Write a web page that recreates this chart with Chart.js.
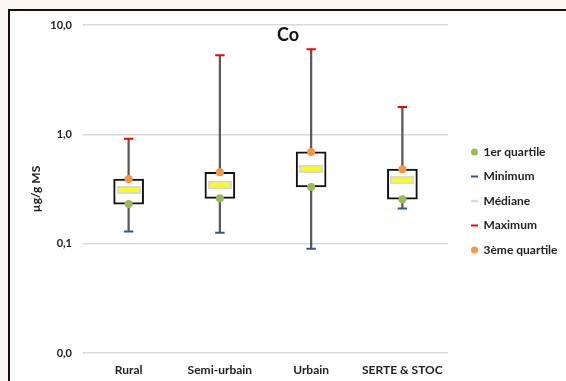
<!DOCTYPE html>
<html lang="fr">
<head>
<meta charset="utf-8">
<title>Co</title>
<script src="https://cdn.jsdelivr.net/npm/chart.js@4.4.1/dist/chart.umd.min.js"></script>
<style>
  html, body { margin: 0; padding: 0; }
  body { width: 566px; height: 381px; background: #fbf8f3; position: relative; overflow: hidden; }
  #frame {
    position: absolute; left: 8px; top: 9px; width: 558px; height: 372px;
    box-sizing: border-box; border-left: 2px solid #111; border-top: 2px solid #111;
    background: #fff;
  }
  #wrap { position: relative; width: 556px; height: 370px; }
</style>
</head>
<body>
<div id="frame"><div id="wrap"><canvas id="chart"></canvas></div></div>
<script>
// ---- DATA ----
const categories = ["Rural", "Semi-urbain", "Urbain", "SERTE & STOC"];
const minVals = [0.129, 0.126, 0.090, 0.210];
const q1Vals  = [0.230, 0.260, 0.330, 0.255];
const medVals = [0.310, 0.347, 0.486, 0.380];
const q3Vals  = [0.390, 0.450, 0.690, 0.480];
const maxVals = [0.910, 5.300, 6.000, 1.780];

const yTicks = [0.01, 0.1, 1, 10];
const yTickLabels = ["0,0", "0,1", "1,0", "10,0"];
const chartTitle = "Co";
const yTitle = "µg/g MS";

// ---- COLOURS ----
const green = "#9bbb59";
const orange = "#f79646";
const blue = "#2c5a8c";
const red = "#ff0000";
const yellow = "#ffff00";
const medGrey = "#d9d9d9";

Chart.defaults.font.family = "Lato, 'Open Sans', sans-serif";
Chart.defaults.font.weight = "bold";
Chart.defaults.font.size = 12;
Chart.defaults.color = "#222";

// median marker: yellow bar with a light grey rim
const medMark = document.createElement("canvas");
medMark.width = 24; medMark.height = 8;
(function () {
  const c = medMark.getContext("2d");
  c.fillStyle = medGrey; c.fillRect(0, 0, 24, 8);
  c.fillStyle = yellow; c.fillRect(2, 2, 20, 4);
})();

const range = (a, b) => a.map((v, i) => [v, b[i]]);

// title drawn inside the plot
const titleInside = {
  id: "titleInside",
  afterDraw(chart) {
    const ctx = chart.ctx;
    ctx.save();
    ctx.font = "bold 18px Lato, 'Open Sans', sans-serif";
    ctx.fillStyle = "#111";
    ctx.textAlign = "center";
    ctx.textBaseline = "middle";
    ctx.fillText(chartTitle, chart.width / 2, 24);
    ctx.restore();
  }
};

// keep a gap between plot and legend
const legendShift = {
  id: "legendShift",
  beforeInit(chart) {
    const fit = chart.legend.fit;
    chart.legend.fit = function () {
      fit.call(this);
      this.width = 118;
    };
  },
  afterLayout(chart) {
    const lg = chart.legend;
    lg.left += 11; lg.right += 11;
    lg.top -= 2; lg.bottom -= 2;
  }
};

const pts = {
  type: "line",
  showLine: false,
  order: 1,
  pointBorderWidth: 0
};

new Chart(document.getElementById("chart"), {
  data: {
    labels: categories,
    datasets: [
      { ...pts, label: "1er quartile", data: q1Vals, pointStyle: "circle", pointRadius: 4,
        backgroundColor: green, pointBackgroundColor: green, borderColor: green },
      { ...pts, label: "Minimum", data: minVals, pointStyle: "line", pointRadius: 4.7,
        pointBorderWidth: 2, borderWidth: 2, borderColor: blue, pointBorderColor: blue, backgroundColor: blue },
      { ...pts, label: "Médiane", data: medVals, pointStyle: medMark,
        borderColor: medGrey, backgroundColor: medGrey },
      { ...pts, label: "Maximum", data: maxVals, pointStyle: "line", pointRadius: 4.7,
        pointBorderWidth: 2, borderWidth: 2, borderColor: red, pointBorderColor: red, backgroundColor: red },
      { ...pts, label: "3ème quartile", data: q3Vals, pointStyle: "circle", pointRadius: 4,
        backgroundColor: orange, pointBackgroundColor: orange, borderColor: orange },
      // box from 1st to 3rd quartile
      { type: "bar", label: "box", data: range(q1Vals, q3Vals), order: 2, grouped: false,
        barThickness: 30, backgroundColor: "#fff", borderColor: "#111", borderWidth: 2, borderSkipped: false },
      // whisker from min to max
      { type: "bar", label: "whisker", data: range(minVals, maxVals), order: 3, grouped: false,
        barThickness: 1.6, backgroundColor: "#5a5a5a", borderWidth: 0 }
    ]
  },
  options: {
    responsive: true,
    maintainAspectRatio: false,
    animation: false,
    layout: { autoPadding: false, padding: { top: 14, left: 19, right: 0, bottom: 0 } },
    plugins: {
      tooltip: { enabled: false },
      legend: {
        position: "right",
        labels: {
          usePointStyle: true,
          boxWidth: 6,
          boxHeight: 5,
          padding: 12.5,
          color: "#222",
          font: { size: 12, weight: "bold" },
          filter: item => item.datasetIndex < 5,
          generateLabels(chart) {
            const items = Chart.defaults.plugins.legend.labels.generateLabels(chart);
            items.forEach(it => {
              if (it.datasetIndex === 2) {
                it.pointStyle = "line";
                it.strokeStyle = medGrey;
                it.lineWidth = 2.5;
              }
              if (it.datasetIndex === 1 || it.datasetIndex === 3) it.lineWidth = 2;
            });
            return items;
          }
        }
      }
    },
    scales: {
      x: {
        grid: { display: false, drawTicks: false },
        border: { display: false },
        ticks: { padding: 10, color: "#222", font: { size: 12, weight: "bold" } },
        afterFit(s) { s.height = 28; }
      },
      y: {
        type: "logarithmic",
        min: 0.01,
        max: 10,
        border: { display: false },
        grid: { color: "#d9d9d9", lineWidth: 1.5, drawTicks: false },
        afterBuildTicks(s) { s.ticks = yTicks.map(v => ({ value: v })); },
        ticks: {
          padding: 11,
          color: "#222",
          font: { size: 11, weight: "bold" },
          callback: (v, i) => yTickLabels[i]
        },
        title: { display: true, text: yTitle, color: "#222", font: { size: 12, weight: "bold" }, padding: { top: 0, bottom: 0 } },
        afterFit(s) {
          s.width = 54;
          s.paddingTop = 0;
          s.paddingBottom = 0;
        }
      }
    }
  },
  plugins: [titleInside, legendShift]
});
</script>
</body>
</html>
